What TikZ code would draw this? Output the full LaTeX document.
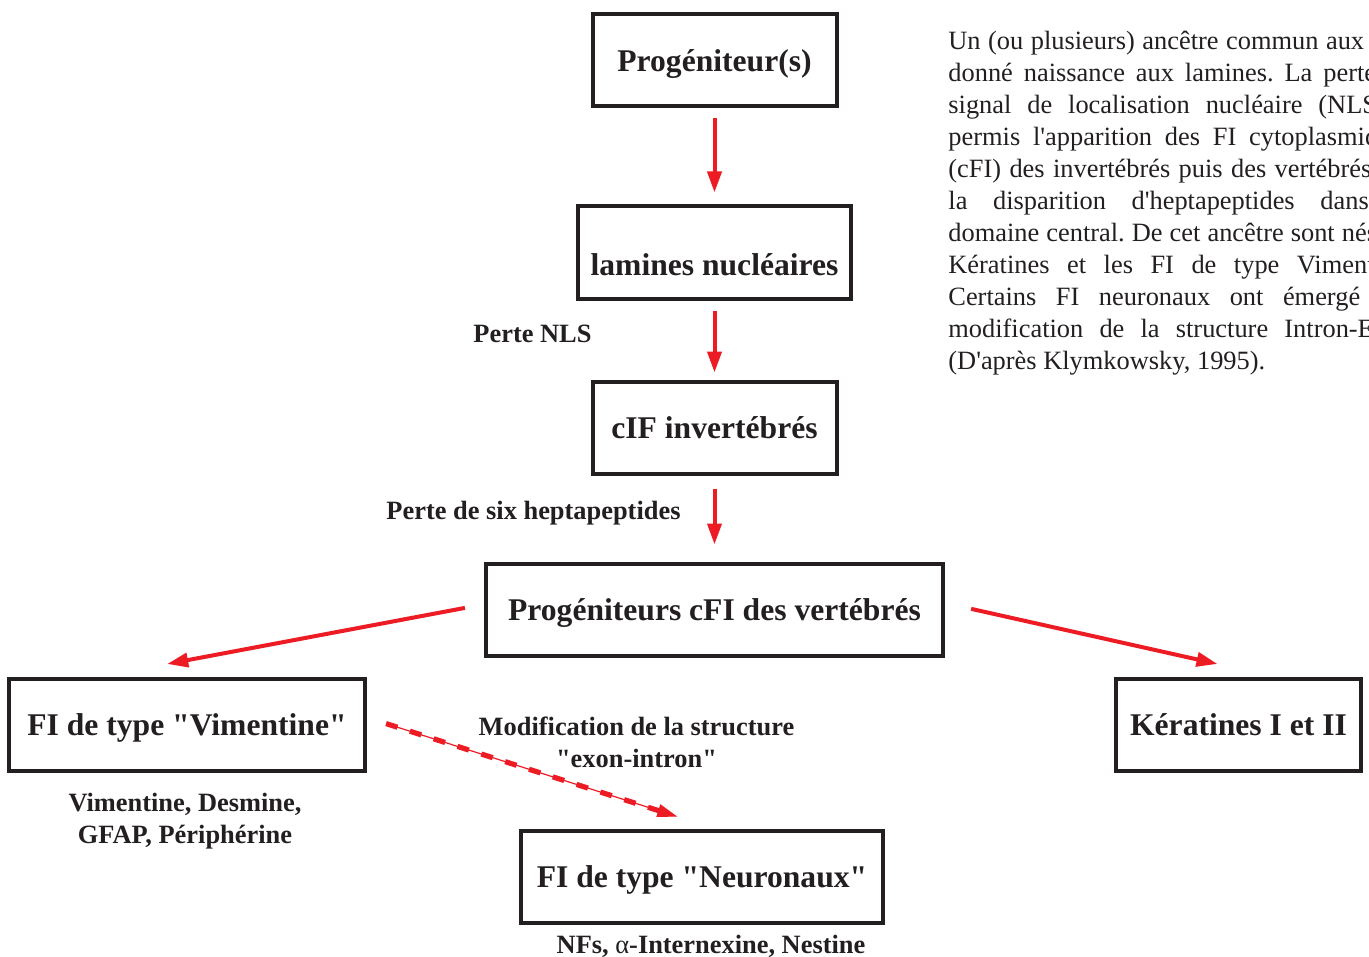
\documentclass[tikz,border=0pt]{standalone}
\usepackage{fontspec}
\setmainfont{Liberation Serif}
\usetikzlibrary{positioning,arrows.meta,calc}

\definecolor{ink}{RGB}{35,31,32}
\definecolor{arrred}{RGB}{237,28,36}

% one justified line of the side text, padded by an invisible tail
\newcommand{\jline}[2]{\makebox[\linewidth][s]{#1 \phantom{#2}}\par}
\newcommand{\qq}[1]{\textquotedbl#1\textquotedbl}

\begin{document}
\begin{tikzpicture}[>=Stealth,
  node distance=49pt and 20pt,
  box/.style={draw=ink, line width=2pt, text=ink, inner sep=0pt,
    minimum height=46pt, text height=10.7pt, text depth=0pt,
    font=\fontsize{15.8}{19}\selectfont\bfseries},
  lbl/.style={text=ink, align=center, inner sep=0pt,
    font=\fontsize{13.2}{16}\selectfont\bfseries},
  arr/.style={draw=arrred, line width=2pt, -{Triangle[length=10.5pt,width=7pt]}},
  dasharr/.style={draw=arrred, line width=0.6pt, -{Triangle[length=10pt,width=6.5pt]}},
  dashes/.style={draw=arrred, line width=2.6pt, dash pattern=on 6pt off 6.5pt}]
  \useasboundingbox (0,0) rectangle (684.5pt,-478.5pt);
  \clip (0,0) rectangle (684.5pt,-478.5pt);

  % main chain
  \node[box, minimum width=122pt] (prog) at (357.25pt,-30.25pt) {Progéniteur(s)};
  \node[box, minimum width=136.5pt, text height=23.2pt,
    below=48pt of prog] (lam) {lamines nucléaires};
  \node[box, minimum width=122pt, below=39.5pt of lam] (cif) {cIF invertébrés};
  \node[box, minimum width=228.5pt, below=43pt of cif] (cfi) {Progéniteurs cFI des vertébrés};
  \node[box, minimum width=178pt, below left=9.5pt and 58.5pt of cfi] (vim) {FI de type \qq{Vimentine}};
  \node[box, minimum width=122.5pt, below right=9.5pt and 84.5pt of cfi] (ker) {Kératines I et II};
  \node[box, minimum width=181pt, below=85.5pt of cfi, xshift=-6.25pt] (neu) {FI de type \qq{Neuronaux}};

  % labels
  \node[lbl] (nls) at (266.25pt,-167pt) {Perte NLS};
  \node[lbl] (hept) at (266.75pt,-256.5pt) {Perte de six heptapeptides};
  \node[lbl] (modif) at (318.25pt,-371.25pt) {Modification de la structure\\\qq{exon-intron}};
  \node[lbl] (vimlist) at (92.5pt,-410.5pt) {Vimentine, Desmine,\\GFAP, Périphérine};
  \node[lbl] (neulist) at (355.5pt,-473pt) {NFs, \textmd{α}-Internexine, Nestine};

  % arrows
  \draw[arr, shorten <=5pt, shorten >=6pt] (prog) -- (lam);
  \draw[arr, shorten <=5pt, shorten >=3.5pt] (lam) -- (cif);
  \draw[arr, shorten <=6.5pt, shorten >=8.5pt] (cif) -- (cfi);
  \draw[arr, shorten <=9.7pt, shorten >=33.9pt]
    ([yshift=2.6pt]cfi.west) -- ($(vim.north west)!0.26!(vim.north east)$);
  \draw[arr, shorten <=13.4pt, shorten >=28.7pt]
    ([yshift=3.25pt]cfi.east) -- ([xshift=17.5pt]ker.north);
  \draw[dasharr, shorten <=10pt, shorten >=19.5pt]
    ([yshift=3.5pt]vim.east) -- ([xshift=6.25pt]neu.north);
  \draw[dashes, shorten <=10pt, shorten >=29pt]
    ([yshift=3.5pt]vim.east) -- ([xshift=6.25pt]neu.north);

  % side text
  \node[anchor=base west, inner sep=0pt, text=ink] (note) at (474pt,-25pt)
    {\parbox[t]{232.5pt}{\fontsize{13.2}{16}\selectfont\frenchspacing
    \jline{Un (ou plusieurs) ancêtre commun aux}{FI a}
    \jline{donné naissance aux lamines. La perte}{du}
    \jline{signal de localisation nucléaire (NLS)}{a}
    \makebox[\linewidth][s]{permis l\textquotesingle apparition des FI cytoplasmiques}\par
    \jline{(cFI) des invertébrés puis des vertébrés}{par}
    \jline{la disparition d\textquotesingle heptapeptides dans}{le}
    \jline{domaine central. De cet ancêtre sont nés}{les}
    \makebox[\linewidth][s]{Kératines et les FI de type Vimentine.}\par
    \jline{Certains FI neuronaux ont émergé}{par}
    \makebox[\linewidth][s]{modification de la structure Intron-Exon}\par
    (D\textquotesingle après Klymkowsky, 1995).}};
\end{tikzpicture}
\end{document}
